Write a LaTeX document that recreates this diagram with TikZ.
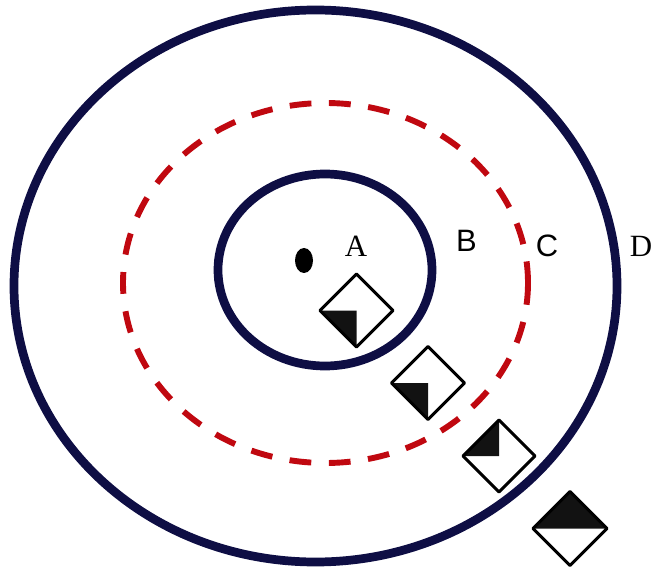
\documentclass[tikz,border=0pt]{standalone}
\usepackage{fontspec}
\newfontfamily\labelsans{Liberation Sans}
\newfontfamily\labelserif{Liberation Serif}
\usetikzlibrary{positioning}
\definecolor{ringblue}{RGB}{14,14,68}
\definecolor{ringred}{RGB}{192,8,16}

\begin{document}
\begin{tikzpicture}[
    x=0.025cm, y=-0.025cm,
    ring/.style={draw=ringblue, line width=6.2pt},
    zone/.style={draw=ringred, line width=4.2pt, dash pattern=on 15.5pt off 12.5pt},
    marker/.style={draw=black, line width=2.1pt, line join=round},
    half/.style={fill=black!93},
    serif label/.style={anchor=base, font=\fontsize{22}{26}\selectfont\labelserif},
    sans label/.style={anchor=base, font=\fontsize{22}{26}\selectfont\labelsans}
]
\useasboundingbox (0,0) rectangle (652,571);

% rings
\draw[ring] (315.5,286) ellipse [x radius=301.5, y radius=276];
\draw[zone] (325.5,283) ellipse [x radius=202.5, y radius=180];
\draw[ring] (325,270) ellipse [x radius=107, y radius=96];

% source
\fill (304,260.5) ellipse [x radius=9, y radius=12.5];

% labels
\node[serif label] (A) at (356,257) {A};
\node[sans label] (B) at (466.5,252) {B};
\node[sans label] (C) at (547,257) {C};
\node[serif label, anchor=base west, inner xsep=0pt] (D) at (629.5,257) {D};

% markers
\coordinate (m1) at (356.5,310.5);
\coordinate (m2) at (428,383);
\coordinate (m3) at (499,456);
\coordinate (m4) at (570,528.5);

\fill[half] (m1) -- ++(-36.5,0) -- ++(36.5,36.5) -- cycle;
\draw[marker] (m1) ++(-36.5,0) -- ++(36.5,-36.5) -- ++(36.5,36.5) -- ++(-36.5,36.5) -- cycle;

\fill[half] (m2) -- ++(-36.5,0) -- ++(36.5,36.5) -- cycle;
\draw[marker] (m2) ++(-36.5,0) -- ++(36.5,-36.5) -- ++(36.5,36.5) -- ++(-36.5,36.5) -- cycle;

\fill[half] (m3) -- ++(-36,0) -- ++(36,-36) -- cycle;
\draw[marker] (m3) ++(-36,0) -- ++(36,-36) -- ++(36,36) -- ++(-36,36) -- cycle;

\fill[half] (m4) ++(-37,0) -- ++(37,-37) -- ++(37,37) -- cycle;
\draw[marker] (m4) ++(-37,0) -- ++(37,-37) -- ++(37,37) -- ++(-37,37) -- cycle;
\end{tikzpicture}
\end{document}
